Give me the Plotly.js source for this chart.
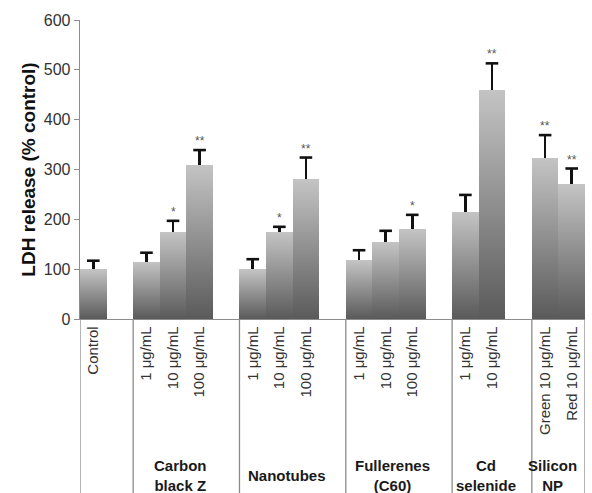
<!DOCTYPE html>
<html>
<head>
<meta charset="utf-8">
<script src="https://cdn.plot.ly/plotly-3.0.1.min.js"></script>
<style>
  html, body { margin: 0; padding: 0; background: #fff; }
  #chart { width: 592px; height: 493px; }
</style>
</head>
<body>
<div id="chart"></div>
<script>
// ---- data ----
const groupNames = ["", "Carbon<br>black Z", "Nanotubes", "Fullerenes<br>(C60)", "Cd<br>selenide", "Silicon<br>NP"];
const groupLabels = [
  ["Control"],
  ["1 μg/mL", "10 μg/mL", "100 μg/mL"],
  ["1 μg/mL", "10 μg/mL", "100 μg/mL"],
  ["1 μg/mL", "10 μg/mL", "100 μg/mL"],
  ["1 μg/mL", "10 μg/mL"],
  ["Green 10 μg/mL", "Red 10 μg/mL"]
];
const groupValues = [
  [100],
  [115, 175, 310],
  [100, 175, 280],
  [118, 154, 180],
  [215, 460],
  [324, 271]
];
const groupErrors = [
  [17],
  [18, 22, 29],
  [20, 10, 44],
  [20, 23, 29],
  [34, 53],
  [45, 31]
];
const groupStars = [
  [""],
  ["", "*", "**"],
  ["", "*", "**"],
  ["", "", "*"],
  ["", "**"],
  ["**", "**"]
];

// ---- build positions from the group structure (one empty slot between groups) ----
const xs = [], labels = [], vals = [], errs = [], stars = [];
const groupSpans = [];
let pos = 0;
groupLabels.forEach((g, gi) => {
  const start = pos;
  g.forEach((lab, i) => {
    xs.push(pos); labels.push(lab);
    vals.push(groupValues[gi][i]); errs.push(groupErrors[gi][i]); stars.push(groupStars[gi][i]);
    pos++;
  });
  groupSpans.push([start, pos - 1]);
  if (gi < groupLabels.length - 1) pos++;
});
const xMax = pos - 1;
const tops = vals.map((v, i) => v + errs[i]);

const FONT = "Liberation Sans, Arial, Helvetica, sans-serif";
const LINE = "#8c8c8c";
const yBottom = -174 / 299;

// separators
const shapes = [];
const sepX = [-0.5];
groupSpans.forEach((s, gi) => { if (gi > 0) sepX.push(s[0] - 0.5); });
sepX.push(xMax + 0.5);
sepX.forEach(x => shapes.push({
  type: "line", xref: "x", yref: "paper", x0: x, x1: x, y0: 0, y1: yBottom,
  line: { color: LINE, width: 1.3 }
}));

const annotations = [];
// group names
groupSpans.forEach((s, gi) => {
  if (!groupNames[gi]) return;
  const left = s[0] - 0.5;
  const right = gi < groupSpans.length - 1 ? groupSpans[gi + 1][0] - 0.5 : s[1] + 0.5;
  annotations.push({
    x: (left + right) / 2, y: -157 / 299, xref: "x", yref: "paper",
    text: "<b>" + groupNames[gi] + "</b>", showarrow: false,
    xanchor: "center", yanchor: "middle", xshift: -6,
    font: { family: FONT, size: 15, color: "#1a1a1a" }
  });
});
// significance stars
xs.forEach((x, i) => {
  if (!stars[i]) return;
  annotations.push({
    x: x, y: tops[i], xref: "x", yref: "y",
    text: stars[i], showarrow: false, xanchor: "center", yanchor: "bottom", yshift: 0,
    font: { family: FONT, size: 12, color: "#555" }
  });
});

const bars = {
  type: "bar", x: xs, y: vals, width: 1,
  marker: { color: "#8a8a8a", line: { width: 0 } },
  error_y: { type: "data", symmetric: false, array: errs, arrayminus: errs.map(() => 0),
             color: "#111", thickness: 2.6, width: 0 },
  hoverinfo: "none"
};
const caps = {
  type: "scatter", mode: "markers", x: xs, y: tops,
  marker: { symbol: "line-ew", size: 9, color: "#111", line: { color: "#111", width: 2.6 } },
  hoverinfo: "none", cliponaxis: false
};

const layout = {
  width: 592, height: 493,
  margin: { l: 80, r: 7, t: 20, b: 174 },
  paper_bgcolor: "#fff", plot_bgcolor: "#fff",
  showlegend: false, bargap: 0,
  font: { family: FONT, color: "#333" },
  xaxis: {
    range: [-0.5, xMax + 0.5], tickmode: "array", tickvals: xs, ticktext: labels,
    tickangle: -90, ticks: "", showgrid: false, zeroline: false,
    showline: true, linecolor: LINE, linewidth: 1.3,
    tickfont: { family: FONT, size: 15, color: "#333" }, fixedrange: true
  },
  yaxis: {
    range: [0, 600], dtick: 100, ticks: "outside", ticklen: 5, tickcolor: LINE,
    showgrid: false, zeroline: false, showline: true, linecolor: LINE, linewidth: 1.3,
    tickfont: { family: FONT, size: 16, color: "#333" },
    title: { text: "<b>LDH release (% control)</b>", standoff: 3,
             font: { family: FONT, size: 19, color: "#111" } },
    fixedrange: true
  },
  shapes: shapes,
  annotations: annotations
};

Plotly.newPlot("chart", [bars, caps], layout, { staticPlot: true, displayModeBar: false }).then(gd => {
  const NS = "http://www.w3.org/2000/svg";
  const svg = gd.querySelector(".main-svg");
  let defs = svg.querySelector("defs");
  if (!defs) { defs = document.createElementNS(NS, "defs"); svg.insertBefore(defs, svg.firstChild); }
  const grad = document.createElementNS(NS, "linearGradient");
  grad.setAttribute("id", "barGrad");
  grad.setAttribute("x1", "0"); grad.setAttribute("y1", "0");
  grad.setAttribute("x2", "0"); grad.setAttribute("y2", "1");
  [["0", "#c4c4c4"], ["1", "#5a5a5a"]].forEach(([o, c]) => {
    const st = document.createElementNS(NS, "stop");
    st.setAttribute("offset", o); st.setAttribute("stop-color", c);
    grad.appendChild(st);
  });
  defs.appendChild(grad);
  gd.querySelectorAll(".bars .point path").forEach(p => { p.style.fill = "url(#barGrad)"; });
});
</script>
</body>
</html>
